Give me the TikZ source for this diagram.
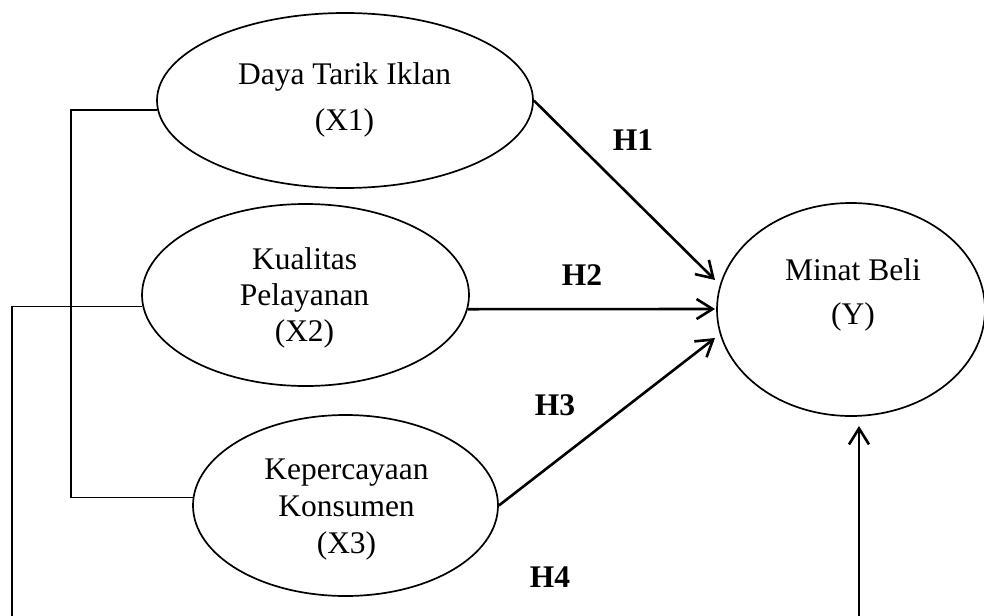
\documentclass[tikz,border=0pt]{standalone}
\usepackage{fontspec}
\setmainfont{Liberation Serif}
\usetikzlibrary{shapes.geometric,arrows.meta}
\begin{document}
\begin{tikzpicture}[x=1pt,y=-1pt,
  var/.style={ellipse,draw,line width=1.7pt,inner sep=0pt},
  lbl/.style={align=center,inner sep=0pt,font=\fontsize{31.5}{36}\selectfont},
  hyp/.style={inner sep=0pt,font=\fontsize{31.5}{36}\selectfont\bfseries},
  link/.style={line width=1.7pt},
  hypline/.style={line width=2.6pt,-{Straight Barb[length=16pt,width=20pt]}}
]
\useasboundingbox (0,0) rectangle (984,615);
% ellipses
\node[var,minimum width=376pt,minimum height=175pt] (X1) at (345,100.5) {};
\node[var,minimum width=327pt,minimum height=182pt] (X2) at (305.5,295) {};
\node[var,minimum width=305pt,minimum height=181pt] (X3) at (345.5,505.5) {};
\node[var,minimum width=268pt,minimum height=213pt] (Y) at (851,309.5) {};
% texts
\node[lbl] (X1t) at (344.5,100) {Daya Tarik Iklan\\[10pt](X1)};
\node[lbl] (X2t) at (304.5,297.7) {Kualitas\\Pelayanan\\(X2)};
\node[lbl] (X3t) at (346.5,509.7) {Kepercayaan\\[1pt]Konsumen\\[1pt](X3)};
\node[lbl] (Yt) at (853,295) {Minat Beli\\[8pt](Y)};
% hypothesis labels
\node[hyp] (H1) at (633,140) {H1};
\node[hyp] (H2) at (582,275) {H2};
\node[hyp] (H3) at (555,405) {H3};
\node[hyp] (H4) at (550,577) {H4};
% free ends
\coordinate (j1) at (71,111);
\coordinate (rail) at (12,616);
\coordinate (t1) at (715,280);
\coordinate (t2) at (715,309);
\coordinate (t3) at (715,338);
\coordinate (b4) at (859,616);
\coordinate (t4) at (859,426);
% connectors
\draw[link] (X1.183.4) -- (X1.183.4 -| j1) -- (X3.177.9 -| j1) -- (X3.177.9);
\draw[link] (X2.184.9) -| (rail);
\draw[hypline] (X1.east) -- (t1);
\draw[hypline] (X2.355.1) -- (t2);
\draw[hypline] (X3.east) -- (t3);
\draw[hypline] (b4) -- (t4);
\end{tikzpicture}
\end{document}
